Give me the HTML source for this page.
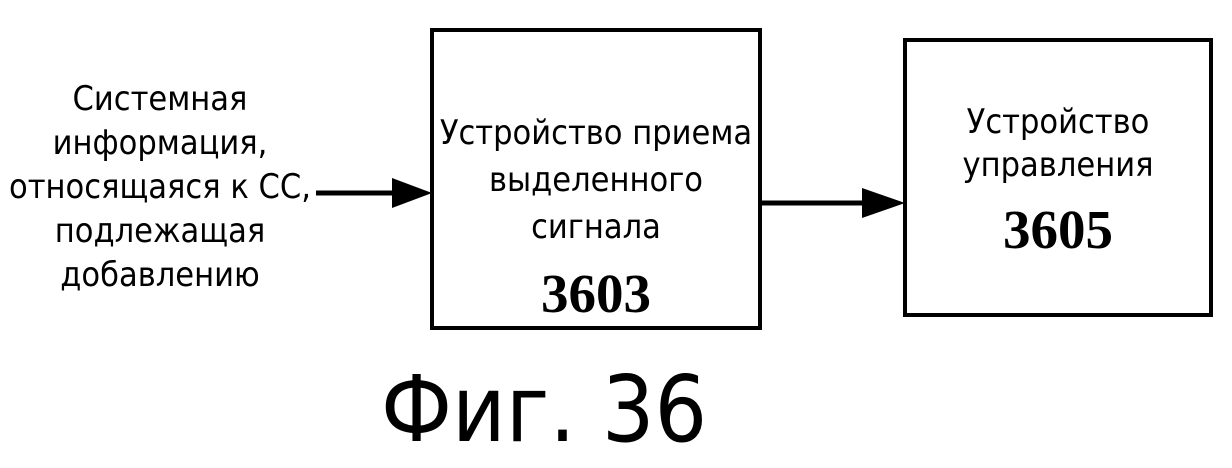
<!DOCTYPE html>
<html><head><meta charset="utf-8"><style>
body{margin:0;width:1232px;height:468px;background:#fff;position:relative;overflow:hidden;font-family:"DejaVu Sans Condensed","Liberation Sans",sans-serif;color:#000}
.t{position:absolute;text-align:center;font-size:34px;line-height:45px;white-space:nowrap}
.n{position:absolute;text-align:center;font-family:"Liberation Serif",serif;font-weight:bold;font-size:55px}
.box{position:absolute;border:4px solid #000;box-sizing:border-box}
</style></head><body>
<div class="box" style="left:430px;top:28px;width:332px;height:302px"></div>
<div class="box" style="left:903px;top:38px;width:310px;height:279px"></div>
<svg width="1232" height="468" style="position:absolute;left:0;top:0">
<line x1="316" y1="193" x2="400" y2="193" stroke="#000" stroke-width="5"/>
<polygon points="392,178 432,193 392,208" fill="#000"/>
<line x1="762" y1="203" x2="870" y2="203" stroke="#000" stroke-width="5"/>
<polygon points="862,188 905,203 862,218" fill="#000"/>
</svg>
<div class="t" style="left:0;width:320px;top:77px;line-height:44px">Системная<br>информация,<br>относящаяся к СС,<br>подлежащая<br>добавлению</div>
<div class="t" style="left:430px;width:332px;top:110px;line-height:47px">Устройство приема<br>выделенного<br>сигнала</div>
<div class="n" style="left:430px;width:332px;top:262px">3603</div>
<div class="t" style="left:903px;width:310px;top:101px;line-height:43px">Устройство<br>управления</div>
<div class="n" style="left:903px;width:310px;top:198px">3605</div>
<div class="t" style="left:344px;width:400px;top:355px;font-size:92px;line-height:110px">Фиг. 36</div>
</body></html>
